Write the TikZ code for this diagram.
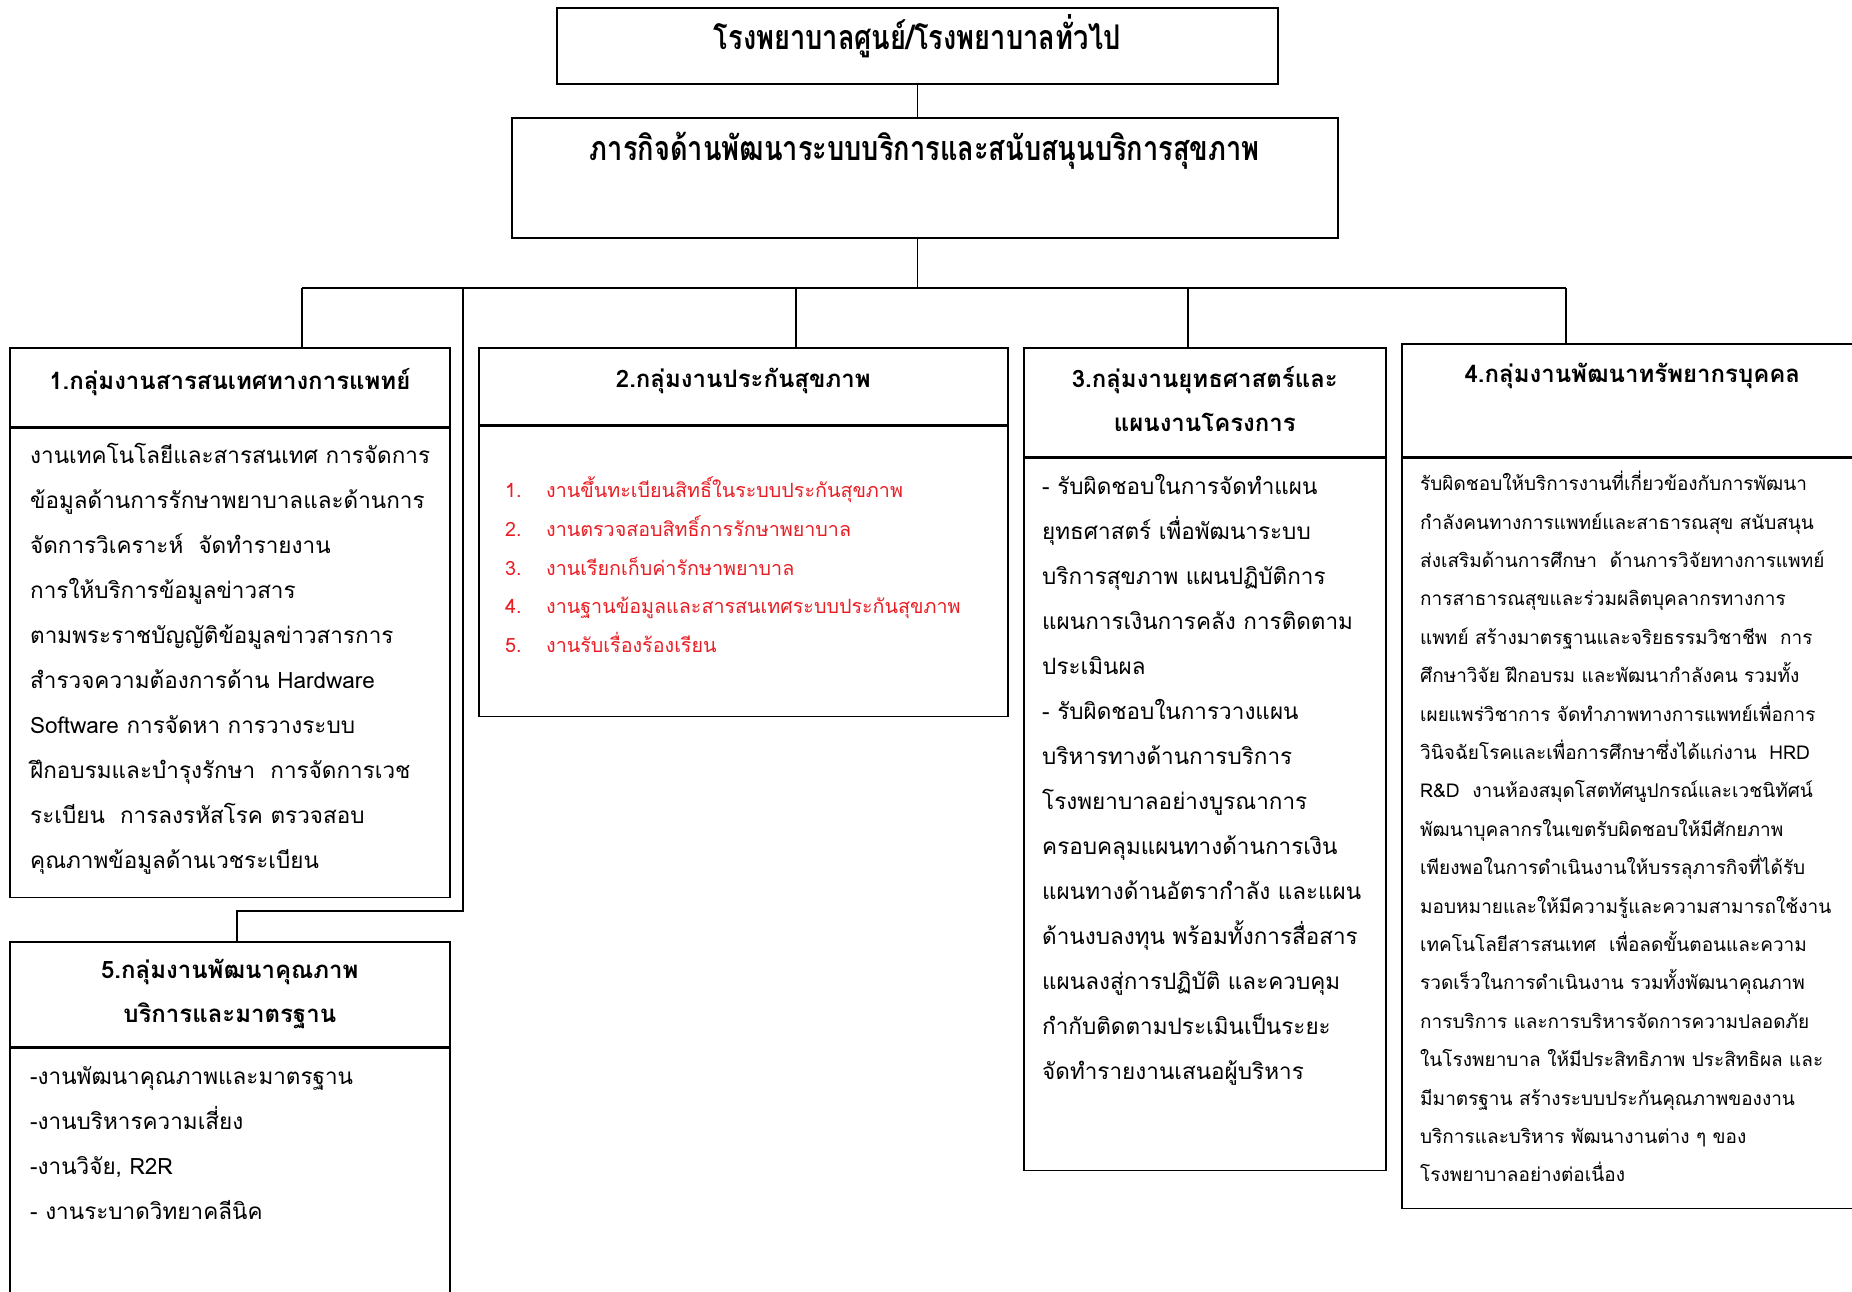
\documentclass[tikz,border=0pt]{standalone}
\usepackage{fontspec}
\setmainfont[Script=Thai]{Loma}
\newfontfamily\thaifont[Script=Thai]{Loma}
\newfontfamily\thaititle[Script=Thai,FakeStretch=0.8]{Loma}
\usepackage{xcolor}
\usetikzlibrary{positioning}
\definecolor{listred}{RGB}{232,30,36}

\begin{document}
\begin{tikzpicture}[
x=1pt, y=-1pt,
GroupBox/.style={draw, line width=1.6pt, inner sep=0pt, anchor=north west},
TitleText/.style={inner sep=0pt, anchor=base, font=\thaititle\bfseries\fontsize{34}{40}\selectfont},
HeadText/.style={font=\thaifont\bfseries\fontsize{24}{44}\selectfont, align=center},
BodyText/.style={inner sep=0pt, anchor=north west, align=left, font=\thaifont\fontsize{22.5}{45}\selectfont},
SmallText/.style={inner sep=0pt, anchor=north west, align=left, font=\thaifont\fontsize{19}{38.4}\selectfont},
ListText/.style={inner sep=0pt, anchor=north west, align=left, text=listred, font=\thaifont\fontsize{19.7}{38.6}\selectfont},
Links/.style={line width=1.6pt}
]
\useasboundingbox (0,0) rectangle (1852,1291);
\clip (0,0) rectangle (1852,1291);

% top of the chart
\node[GroupBox, minimum width=721pt, minimum height=76pt] (hosp) at (556,7) {};
\node[TitleText, yshift=-42pt] (hosptext) at (hosp.north) {โรงพยาบาลศูนย์/โรงพยาบาลทั่วไป};
\node[GroupBox, minimum width=826pt, minimum height=120pt] (mission) at (511,117) {};
\node[TitleText, yshift=-43pt] (missiontext) at (mission.north) {ภารกิจด้านพัฒนาระบบบริการและสนับสนุนบริการสุขภาพ};

% the five groups: header box, then body box
\node[GroupBox, minimum width=440pt, minimum height=79pt, HeadText, text depth=17pt] (g1head) at (9,347) {1.กลุ่มงานสารสนเทศทางการแพทย์};
\node[GroupBox, minimum width=440pt, minimum height=469pt, anchor=north] (g1body) at (g1head.south) {};

\node[GroupBox, minimum width=529pt, minimum height=77pt, HeadText, text depth=17pt] (g2head) at (478,347) {2.กลุ่มงานประกันสุขภาพ};
\node[GroupBox, minimum width=529pt, minimum height=290pt, anchor=north] (g2body) at (g2head.south) {};

\node[GroupBox, minimum width=362pt, minimum height=109pt, HeadText, text depth=7pt] (g3head) at (1023,347) {3.กลุ่มงานยุทธศาสตร์และ\\แผนงานโครงการ};
\node[GroupBox, minimum width=362pt, minimum height=712pt, anchor=north] (g3body) at (g3head.south) {};

\node[GroupBox, minimum width=461pt, minimum height=113pt, HeadText, text depth=10pt] (g4head) at (1401,343) {4.กลุ่มงานพัฒนาทรัพยากรบุคคล\\\mbox{}};
\node[GroupBox, minimum width=461pt, minimum height=750pt, anchor=north] (g4body) at (g4head.south) {};

\node[GroupBox, minimum width=440pt, minimum height=105pt, HeadText] (g5head) at (9,941) {5.กลุ่มงานพัฒนาคุณภาพ\\บริการและมาตรฐาน};
\node[GroupBox, minimum width=440pt, minimum height=280pt, anchor=north] (g5body) at (g5head.south) {};

% texts inside the bodies
\node[BodyText, below right=4pt and 21pt of g1body.north west] (g1text) {\strut งานเทคโนโลยีและสารสนเทศ การจัดการ\\
ข้อมูลด้านการรักษาพยาบาลและด้านการ\\
จัดการวิเคราะห์\ \ จัดทำรายงาน\\
การให้บริการข้อมูลข่าวสาร\\
ตามพระราชบัญญัติข้อมูลข่าวสารการ\\
สำรวจความต้องการด้าน Hardware\\
Software การจัดหา การวางระบบ\\
ฝึกอบรมและบำรุงรักษา\ \ การจัดการเวช\\
ระเบียน\ \ การลงรหัสโรค ตรวจสอบ\\
คุณภาพข้อมูลด้านเวชระเบียน};

\node[ListText, below right=45pt and 27pt of g2body.north west] (g2text) {\strut\makebox[41pt][l]{1.}งานขึ้นทะเบียนสิทธิ์ในระบบประกันสุขภาพ\\
\makebox[41pt][l]{2.}งานตรวจสอบสิทธิ์การรักษาพยาบาล\\
\makebox[41pt][l]{3.}งานเรียกเก็บค่ารักษาพยาบาล\\
\makebox[41pt][l]{4.}งานฐานข้อมูลและสารสนเทศระบบประกันสุขภาพ\\
\makebox[41pt][l]{5.}งานรับเรื่องร้องเรียน};

\node[BodyText, below right=5pt and 19pt of g3body.north west] (g3text) {\strut - รับผิดชอบในการจัดทำแผน\\
ยุทธศาสตร์ เพื่อพัฒนาระบบ\\
บริการสุขภาพ แผนปฏิบัติการ\\
แผนการเงินการคลัง การติดตาม\\
ประเมินผล\\
- รับผิดชอบในการวางแผน\\
บริหารทางด้านการบริการ\\
โรงพยาบาลอย่างบูรณาการ\\
ครอบคลุมแผนทางด้านการเงิน\\
แผนทางด้านอัตรากำลัง และแผน\\
ด้านงบลงทุน พร้อมทั้งการสื่อสาร\\
แผนลงสู่การปฏิบัติ และควบคุม\\
กำกับติดตามประเมินเป็นระยะ\\
จัดทำรายงานเสนอผู้บริหาร};

\node[SmallText, below right=6pt and 19pt of g4body.north west] (g4text) {\strut รับผิดชอบให้บริการงานที่เกี่ยวข้องกับการพัฒนา\\
กำลังคนทางการแพทย์และสาธารณสุข สนับสนุน\\
ส่งเสริมด้านการศึกษา\ \ ด้านการวิจัยทางการแพทย์\\
การสาธารณสุขและร่วมผลิตบุคลากรทางการ\\
แพทย์ สร้างมาตรฐานและจริยธรรมวิชาชีพ\ \ การ\\
ศึกษาวิจัย ฝึกอบรม และพัฒนากำลังคน รวมทั้ง\\
เผยแพร่วิชาการ จัดทำภาพทางการแพทย์เพื่อการ\\
วินิจฉัยโรคและเพื่อการศึกษาซึ่งได้แก่งาน\ \ HRD\\
R\&D\ \ งานห้องสมุดโสตทัศนูปกรณ์และเวชนิทัศน์\\
พัฒนาบุคลากรในเขตรับผิดชอบให้มีศักยภาพ\\
เพียงพอในการดำเนินงานให้บรรลุภารกิจที่ได้รับ\\
มอบหมายและให้มีความรู้และความสามารถใช้งาน\\
เทคโนโลยีสารสนเทศ\ \ เพื่อลดขั้นตอนและความ\\
รวดเร็วในการดำเนินงาน รวมทั้งพัฒนาคุณภาพ\\
การบริการ และการบริหารจัดการความปลอดภัย\\
ในโรงพยาบาล ให้มีประสิทธิภาพ ประสิทธิผล และ\\
มีมาตรฐาน สร้างระบบประกันคุณภาพของงาน\\
บริการและบริหาร พัฒนางานต่าง ๆ ของ\\
โรงพยาบาลอย่างต่อเนื่อง};

\node[BodyText, below right=5pt and 21pt of g5body.north west] (g5text) {\strut -งานพัฒนาคุณภาพและมาตรฐาน\\
-งานบริหารความเสี่ยง\\
-งานวิจัย, R2R\\
- งานระบาดวิทยาคลีนิค};

% connectors
\coordinate (d1) at (302,288);
\coordinate (d2) at (796,288);
\coordinate (d3) at (1188,288);
\coordinate (d4) at (1566,288);
\coordinate (d5) at (463,288);
\coordinate (d5low) at (237,911);

\draw[Links] (hosp.south) -- (hosp.south |- mission.north);
\draw[Links] (hosp.south |- mission.south) -- (hosp.south |- d1);
\draw[Links] (d1) -- (d4);
\draw[Links] (d1) -- (d1 |- g1head.north);
\draw[Links] (d2) -- (d2 |- g2head.north);
\draw[Links] (d3) -- (d3 |- g3head.north);
\draw[Links] (d4) -- (d4 |- g4head.north);
\draw[Links] (d5) -- (d5 |- d5low) -- (d5low) -- (d5low |- g5head.north);

\end{tikzpicture}
\end{document}
